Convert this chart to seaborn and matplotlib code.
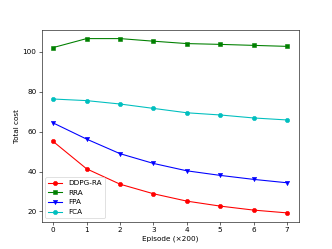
import matplotlib
matplotlib.use("Agg")
import matplotlib.pyplot as plt
import seaborn as sns
import pandas as pd

episodes = [0, 1, 2, 3, 4, 5, 6, 7]
ddpg_ra = [55.1, 41.4, 33.7, 28.9, 25.2, 22.7, 20.7, 19.3]
rra = [102.2, 106.7, 106.7, 105.4, 104.2, 103.8, 103.3, 102.8]
fpa = [64.4, 56.3, 49.0, 44.1, 40.4, 38.1, 36.1, 34.4]
fca = [76.4, 75.6, 73.9, 71.7, 69.5, 68.4, 66.9, 65.9]

series = [("DDPG-RA", ddpg_ra, "r", "o"),
          ("RRA", rra, "g", "s"),
          ("FPA", fpa, "b", "v"),
          ("FCA", fca, "c", "o")]

fig, ax = plt.subplots(figsize=(6.4, 4.8), dpi=332 / 6.4)
for name, vals, col, mk in series:
    df = pd.DataFrame({"episode": episodes, "cost": vals})
    sns.lineplot(data=df, x="episode", y="cost", color=col, marker=mk,
                 markeredgecolor=col, markersize=6, label=name, ax=ax)

ax.set_xlabel("Episode (\u00d7200)")
ax.set_ylabel("Total cost")
ax.legend(loc="lower left")
fig.savefig("out.png", dpi=332 / 6.4)
